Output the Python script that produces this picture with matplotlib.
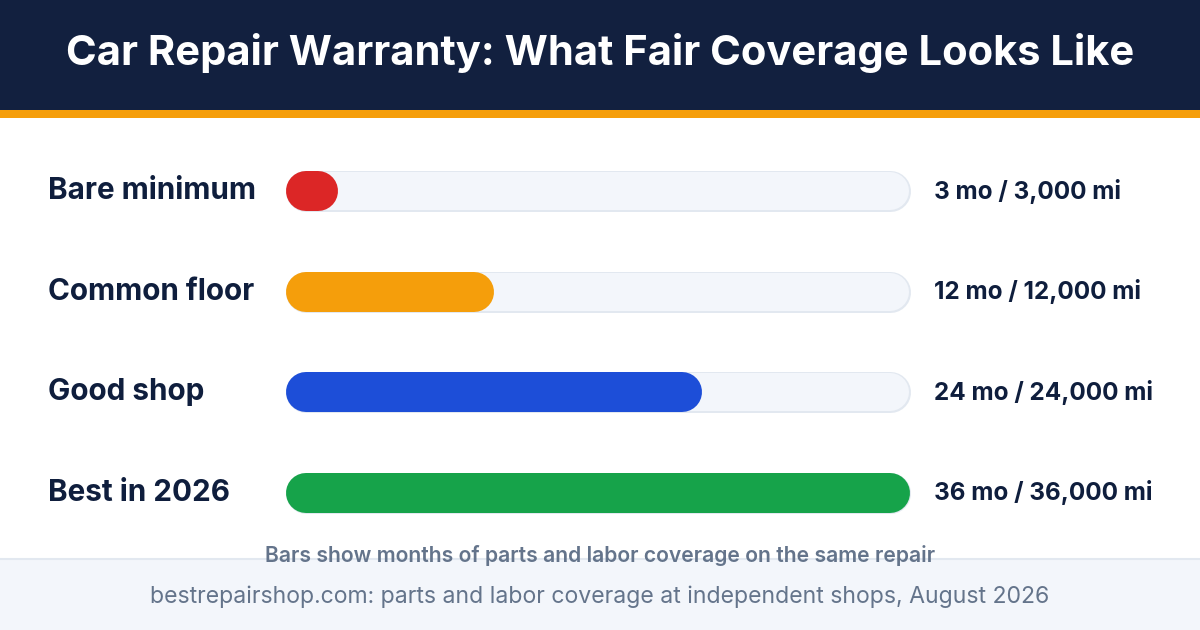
import matplotlib.pyplot as plt
from matplotlib.patches import Rectangle

W, H = 1200, 630

title = "Car Repair Warranty: What Fair Coverage Looks Like"
tiers = ["Bare minimum", "Common floor", "Good shop", "Best in 2026"]
months = [3, 12, 24, 36]
value_labels = ["3 mo / 3,000 mi", "12 mo / 12,000 mi",
                "24 mo / 24,000 mi", "36 mo / 36,000 mi"]
colors = ["#DC2626", "#F59E0B", "#1D4ED8", "#16A34A"]
max_months = 36
caption = "Bars show months of parts and labor coverage on the same repair"
source = "bestrepairshop.com: parts and labor coverage at independent shops, August 2026"

navy = "#12203F"
text_navy = "#0F1E3D"
gray = "#64748B"
track_fill = "#F3F6FB"
track_edge = "#E2E8F0"

plt.rcParams['font.family'] = ['Inter', 'DejaVu Sans']

fig = plt.figure(figsize=(W / 100, H / 100), dpi=100)

# background layer in pixel coordinates
bg = fig.add_axes([0, 0, 1, 1])
bg.set_xlim(0, W)
bg.set_ylim(H, 0)
bg.axis("off")
bg.add_patch(Rectangle((0, 0), W, 110, color=navy, lw=0))
bg.add_patch(Rectangle((0, 110), W, 8, color="#F59E0B", lw=0))
bg.add_patch(Rectangle((0, 559), W, 71, facecolor=track_fill, lw=0))
bg.plot([0, W], [559, 559], color=track_edge, lw=1.5)
bg.text(600, 53, title, color="white", fontsize=30, fontweight="bold",
        ha="center", va="center")
bg.text(600, 556, caption, color=gray, fontsize=15.2, fontweight="semibold",
        ha="center", va="center")
bg.text(600, 597, source, color=gray, fontsize=16.6,
        ha="center", va="center")

# bar area: x in months, one row per tier
x0, x1 = 286, 910
y_top, y_bot = 141, 543
ax = fig.add_axes([x0 / W, 1 - y_bot / H, (x1 - x0) / W, (y_bot - y_top) / H])
ax.set_xlim(0, max_months)
ax.set_ylim(len(tiers) - 0.5, -0.5)
ax.axis("off")

px_per_x = (x1 - x0) / max_months
bar_px = 40
cap = (bar_px / 2) / px_per_x   # round cap length in months
pt = 0.72                       # points per pixel at dpi 100

for i, (name, m, lab, c) in enumerate(zip(tiers, months, value_labels, colors)):
    ax.plot([cap, max_months - cap], [i, i], color=track_edge,
            lw=(bar_px + 1) * pt, solid_capstyle="round", clip_on=False)
    ax.plot([cap, max_months - cap], [i, i], color=track_fill,
            lw=(bar_px - 2) * pt, solid_capstyle="round", clip_on=False)
    ax.plot([cap, max(m - cap, cap)], [i, i], color=c,
            lw=bar_px * pt, solid_capstyle="round", clip_on=False)
    ax.text(-238 / px_per_x, i, name, color=text_navy, fontsize=21.4,
            fontweight="bold", ha="left", va="center")
    ax.text(max_months + 24 / px_per_x, i, lab, color=text_navy, fontsize=17.5,
            fontweight="bold", ha="left", va="center")

fig.savefig("out.png", dpi=100)
